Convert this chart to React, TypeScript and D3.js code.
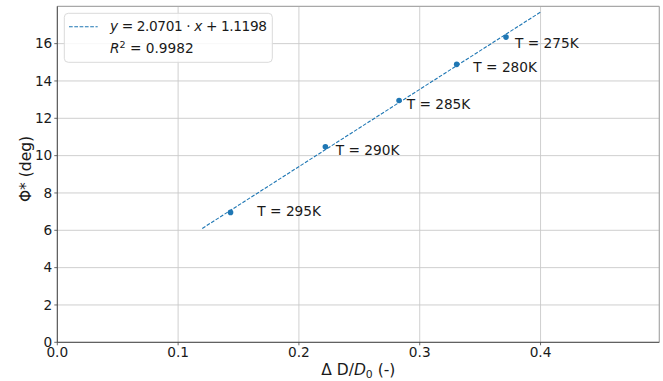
import React from "react";
import * as d3 from "d3";

const temps = ["T = 295K", "T = 290K", "T = 285K", "T = 280K", "T = 275K"];
const dx = [0.1434, 0.2219, 0.2829, 0.3306, 0.3714];
const phi = [6.96, 10.47, 12.95, 14.89, 16.35];
const labelX = [0.1656, 0.2305, 0.2892, 0.3444, 0.3789];
const labelY = [6.77, 10.06, 12.5, 14.48, 15.76];
const fitX = [0.12, 0.4];
const fitY = [6.1, 17.69];
const xTicks = [0, 0.1, 0.2, 0.3, 0.4];
const yTicks = [0, 2, 4, 6, 8, 10, 12, 14, 16];
const slopeText = "2.0701";
const interceptText = "1.1198";
const r2Text = "0.9982";

const W = 663;
const H = 381;
const M = { left: 57.3, right: 659.3, top: 6.3, bottom: 342.3 };
const FONT = "DejaVu Sans, sans-serif";
const FS = 13.7;
const FL = 15.5;
const BLUE = "#1f77b4";
const TXT = "#1a1a1a";

export default function App() {
  const x = d3.scaleLinear().domain([0, 0.4983]).range([M.left, M.right]);
  const y = d3.scaleLinear().domain([0, 18]).range([M.bottom, M.top]);
  const line = d3
    .line<number>()
    .x((d) => x(fitX[d]))
    .y((d) => y(fitY[d]));

  return (
    <svg
      width={W}
      height={H}
      style={{ position: "absolute", left: 0, top: 0, background: "#fff" }}
      fontFamily={FONT}
    >
      <rect x={0} y={0} width={W} height={H} fill="#fff" />
      {/* grid */}
      {xTicks.map((t) => (
        <line key={"gx" + t} x1={x(t)} x2={x(t)} y1={M.top} y2={M.bottom} stroke="#c9c9c9" strokeWidth={0.9} />
      ))}
      {yTicks.map((t) => (
        <line key={"gy" + t} x1={M.left} x2={M.right} y1={y(t)} y2={y(t)} stroke="#c9c9c9" strokeWidth={0.9} />
      ))}
      {/* fit line */}
      <path d={line([0, 1]) || ""} fill="none" stroke={BLUE} strokeWidth={1.1} strokeDasharray="3.7,1.6" />
      {/* points */}
      {dx.map((v, i) => (
        <circle key={"p" + i} cx={x(v)} cy={y(phi[i])} r={2.8} fill={BLUE} />
      ))}
      {/* labels */}
      {temps.map((t, i) => (
        <text key={"l" + i} x={x(labelX[i])} y={y(labelY[i])} fontSize={FS} fill={TXT}>
          {t}
        </text>
      ))}
      {/* spines */}
      <line x1={M.left} x2={M.right} y1={M.top} y2={M.top} stroke="#a8a8a8" strokeWidth={1.2} />
      <line x1={M.right} x2={M.right} y1={M.top} y2={M.bottom} stroke="#a8a8a8" strokeWidth={1.2} />
      <line x1={M.left} x2={M.left} y1={M.top} y2={M.bottom} stroke="#444" strokeWidth={1} />
      <line x1={M.left} x2={M.right} y1={M.bottom} y2={M.bottom} stroke="#444" strokeWidth={1} />
      {/* ticks */}
      {xTicks.map((t) => (
        <g key={"tx" + t}>
          <line x1={x(t)} x2={x(t)} y1={M.bottom} y2={M.bottom + 3} stroke="#444" strokeWidth={0.8} />
          <text x={x(t)} y={M.bottom + 15} fontSize={FS} textAnchor="middle" fill={TXT}>
            {d3.format(".1f")(t)}
          </text>
        </g>
      ))}
      {yTicks.map((t) => (
        <g key={"ty" + t}>
          <line x1={M.left - 3} x2={M.left} y1={y(t)} y2={y(t)} stroke="#444" strokeWidth={0.8} />
          <text x={M.left - 5} y={y(t)} dy="0.35em" fontSize={FS} textAnchor="end" fill={TXT}>
            {t}
          </text>
        </g>
      ))}
      {/* axis labels */}
      <text x={(M.left + M.right) / 2} y={375} fontSize={FL} textAnchor="middle" fill={TXT}>
        Δ D/<tspan fontStyle="italic">D</tspan>
        <tspan fontSize={FL * 0.7} dy={3}>0</tspan>
        <tspan dy={-3}> (-)</tspan>
      </text>
      <text
        transform={`translate(30.5,169) rotate(-90)`}
        fontSize={FL}
        textAnchor="middle"
        fill={TXT}
      >
        Φ* (deg)
      </text>
      {/* legend */}
      <rect x={64.3} y={13.3} width={208} height={49} rx={4} fill="#fff" fillOpacity={0.85} stroke="#dadada" strokeWidth={1} />
      <line x1={69} x2={97.7} y1={26.7} y2={26.7} stroke={BLUE} strokeWidth={1.1} strokeDasharray="3.7,1.6" />
      <text x={110} y={31} fontSize={FS} fill={TXT} textLength={157} lengthAdjust="spacing">
        <tspan fontStyle="italic">y</tspan>
        {" = " + slopeText + " · "}
        <tspan fontStyle="italic">x</tspan>
        {" + " + interceptText}
      </text>
      <text x={110} y={53} fontSize={FS} fill={TXT}>
        <tspan fontStyle="italic">R</tspan>
        <tspan fontSize={FS * 0.7} dy={-5}>2</tspan>
        <tspan dy={5}>{" = " + r2Text}</tspan>
      </text>
    </svg>
  );
}
